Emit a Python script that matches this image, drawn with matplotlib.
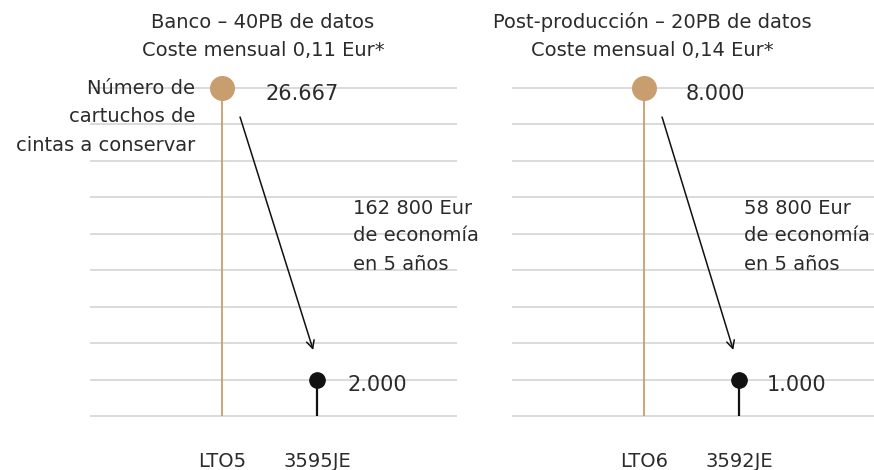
import matplotlib.pyplot as plt
import matplotlib.transforms as mtransforms
import numpy as np

plt.rcParams['font.family'] = ['DejaVu Sans']

# data
titles = ["Banco – 40PB de datos\nCoste mensual 0,11 Eur*",
          "Post-producción – 20PB de datos\nCoste mensual 0,14 Eur*"]
categories = [["LTO5", "3595JE"], ["LTO6", "3592JE"]]
cartridges = [[26667, 2000], [8000, 1000]]
value_labels = [["26.667", "2.000"], ["8.000", "1.000"]]
savings = ["162 800 Eur\nde economía\nen 5 años", "58 800 Eur\nde economía\nen 5 años"]
y_label = "Número de\ncartuchos de\ncintas a conservar"

TAN = "#C89E6E"
TXT = "#2b2b2b"
GRID = "#d4d4d4"
FS = 14


def make_scale(low, high):
    # stylised axis: 0 at bottom, small value one step up, large value at step 9
    xp = [-low, 0, low, high, high + (high - low) / 4.0]
    fp = [-1, 0, 1, 9, 11]

    def fwd(v):
        return np.interp(v, xp, fp)

    def inv(u):
        return np.interp(u, fp, xp)
    return fwd, inv


W, H = 874, 470
fig = plt.figure(figsize=(W / 100, H / 100), dpi=100)

step = 36.44
bottom_px = 416 + step / 2
ax_h = 10 * step
panels = [(90, 457), (512, 874)]
title_x = [0.43, 0.09]
label_dx = [[31, 22], [30, 20]]
save_x = [1.38, 1.05]

for i, (x0, x1) in enumerate(panels):
    ax = fig.add_axes([x0 / W, (H - bottom_px) / H, (x1 - x0) / W, ax_h / H])
    big, small = cartridges[i]
    fwd, inv = make_scale(small, big)
    ax.set_yscale('function', functions=(fwd, inv))
    ax.set_ylim(inv(-0.5), inv(9.5))
    ax.set_xlim(-132 / 95, (x1 - x0 - 132) / 95)
    ax.set_yticks(inv(np.arange(10)))
    ax.yaxis.grid(True, color=GRID, lw=1.2)
    ax.set_axisbelow(True)
    ax.tick_params(left=False, labelleft=False, bottom=False)
    for s in ax.spines.values():
        s.set_visible(False)

    xs = [0, 1]
    ax.vlines(xs[0], 0, big, color=TAN, lw=1.3, zorder=2)
    ax.plot(xs[0], big, 'o', ms=17, color=TAN, zorder=3, clip_on=False)
    ax.vlines(xs[1], 0, small, color="#111111", lw=1.6, zorder=2)
    ax.plot(xs[1], small, 'o', ms=11, color="#111111", zorder=3, clip_on=False)

    for j in range(2):
        ax.annotate(value_labels[i][j], xy=(xs[j], cartridges[i][j]),
                    xytext=(label_dx[i][j], -4), textcoords='offset points',
                    va='center', ha='left', fontsize=FS + 1, color=TXT)

    ax.set_xticks(xs)
    ax.set_xticklabels(categories[i], fontsize=FS, color=TXT)
    ax.tick_params(axis='x', pad=9)

    trans = mtransforms.blended_transform_factory(ax.transData, ax.transAxes)
    ax.text(title_x[i], (bottom_px - 36) / ax_h, titles[i], transform=trans,
            ha='center', va='center', fontsize=FS, color=TXT, linespacing=1.6)
    ax.text(save_x[i], (bottom_px - 236) / ax_h, savings[i], transform=trans,
            ha='left', va='center', fontsize=FS, color=TXT, linespacing=1.6)
    ax.annotate("", xy=(0.96 if i == 0 else 0.94, (bottom_px - 350) / ax_h),
                xytext=(0.19, (bottom_px - 117) / ax_h),
                xycoords=trans, textcoords=trans,
                arrowprops=dict(arrowstyle='->', color='#111111', lw=1.1,
                                mutation_scale=14, shrinkA=0, shrinkB=0))
    if i == 0:
        ax.text(-0.284, (bottom_px - 117) / ax_h, y_label, transform=trans,
                ha='right', va='center', fontsize=FS, color=TXT, linespacing=1.65)

fig.savefig("out.png", dpi=100)
